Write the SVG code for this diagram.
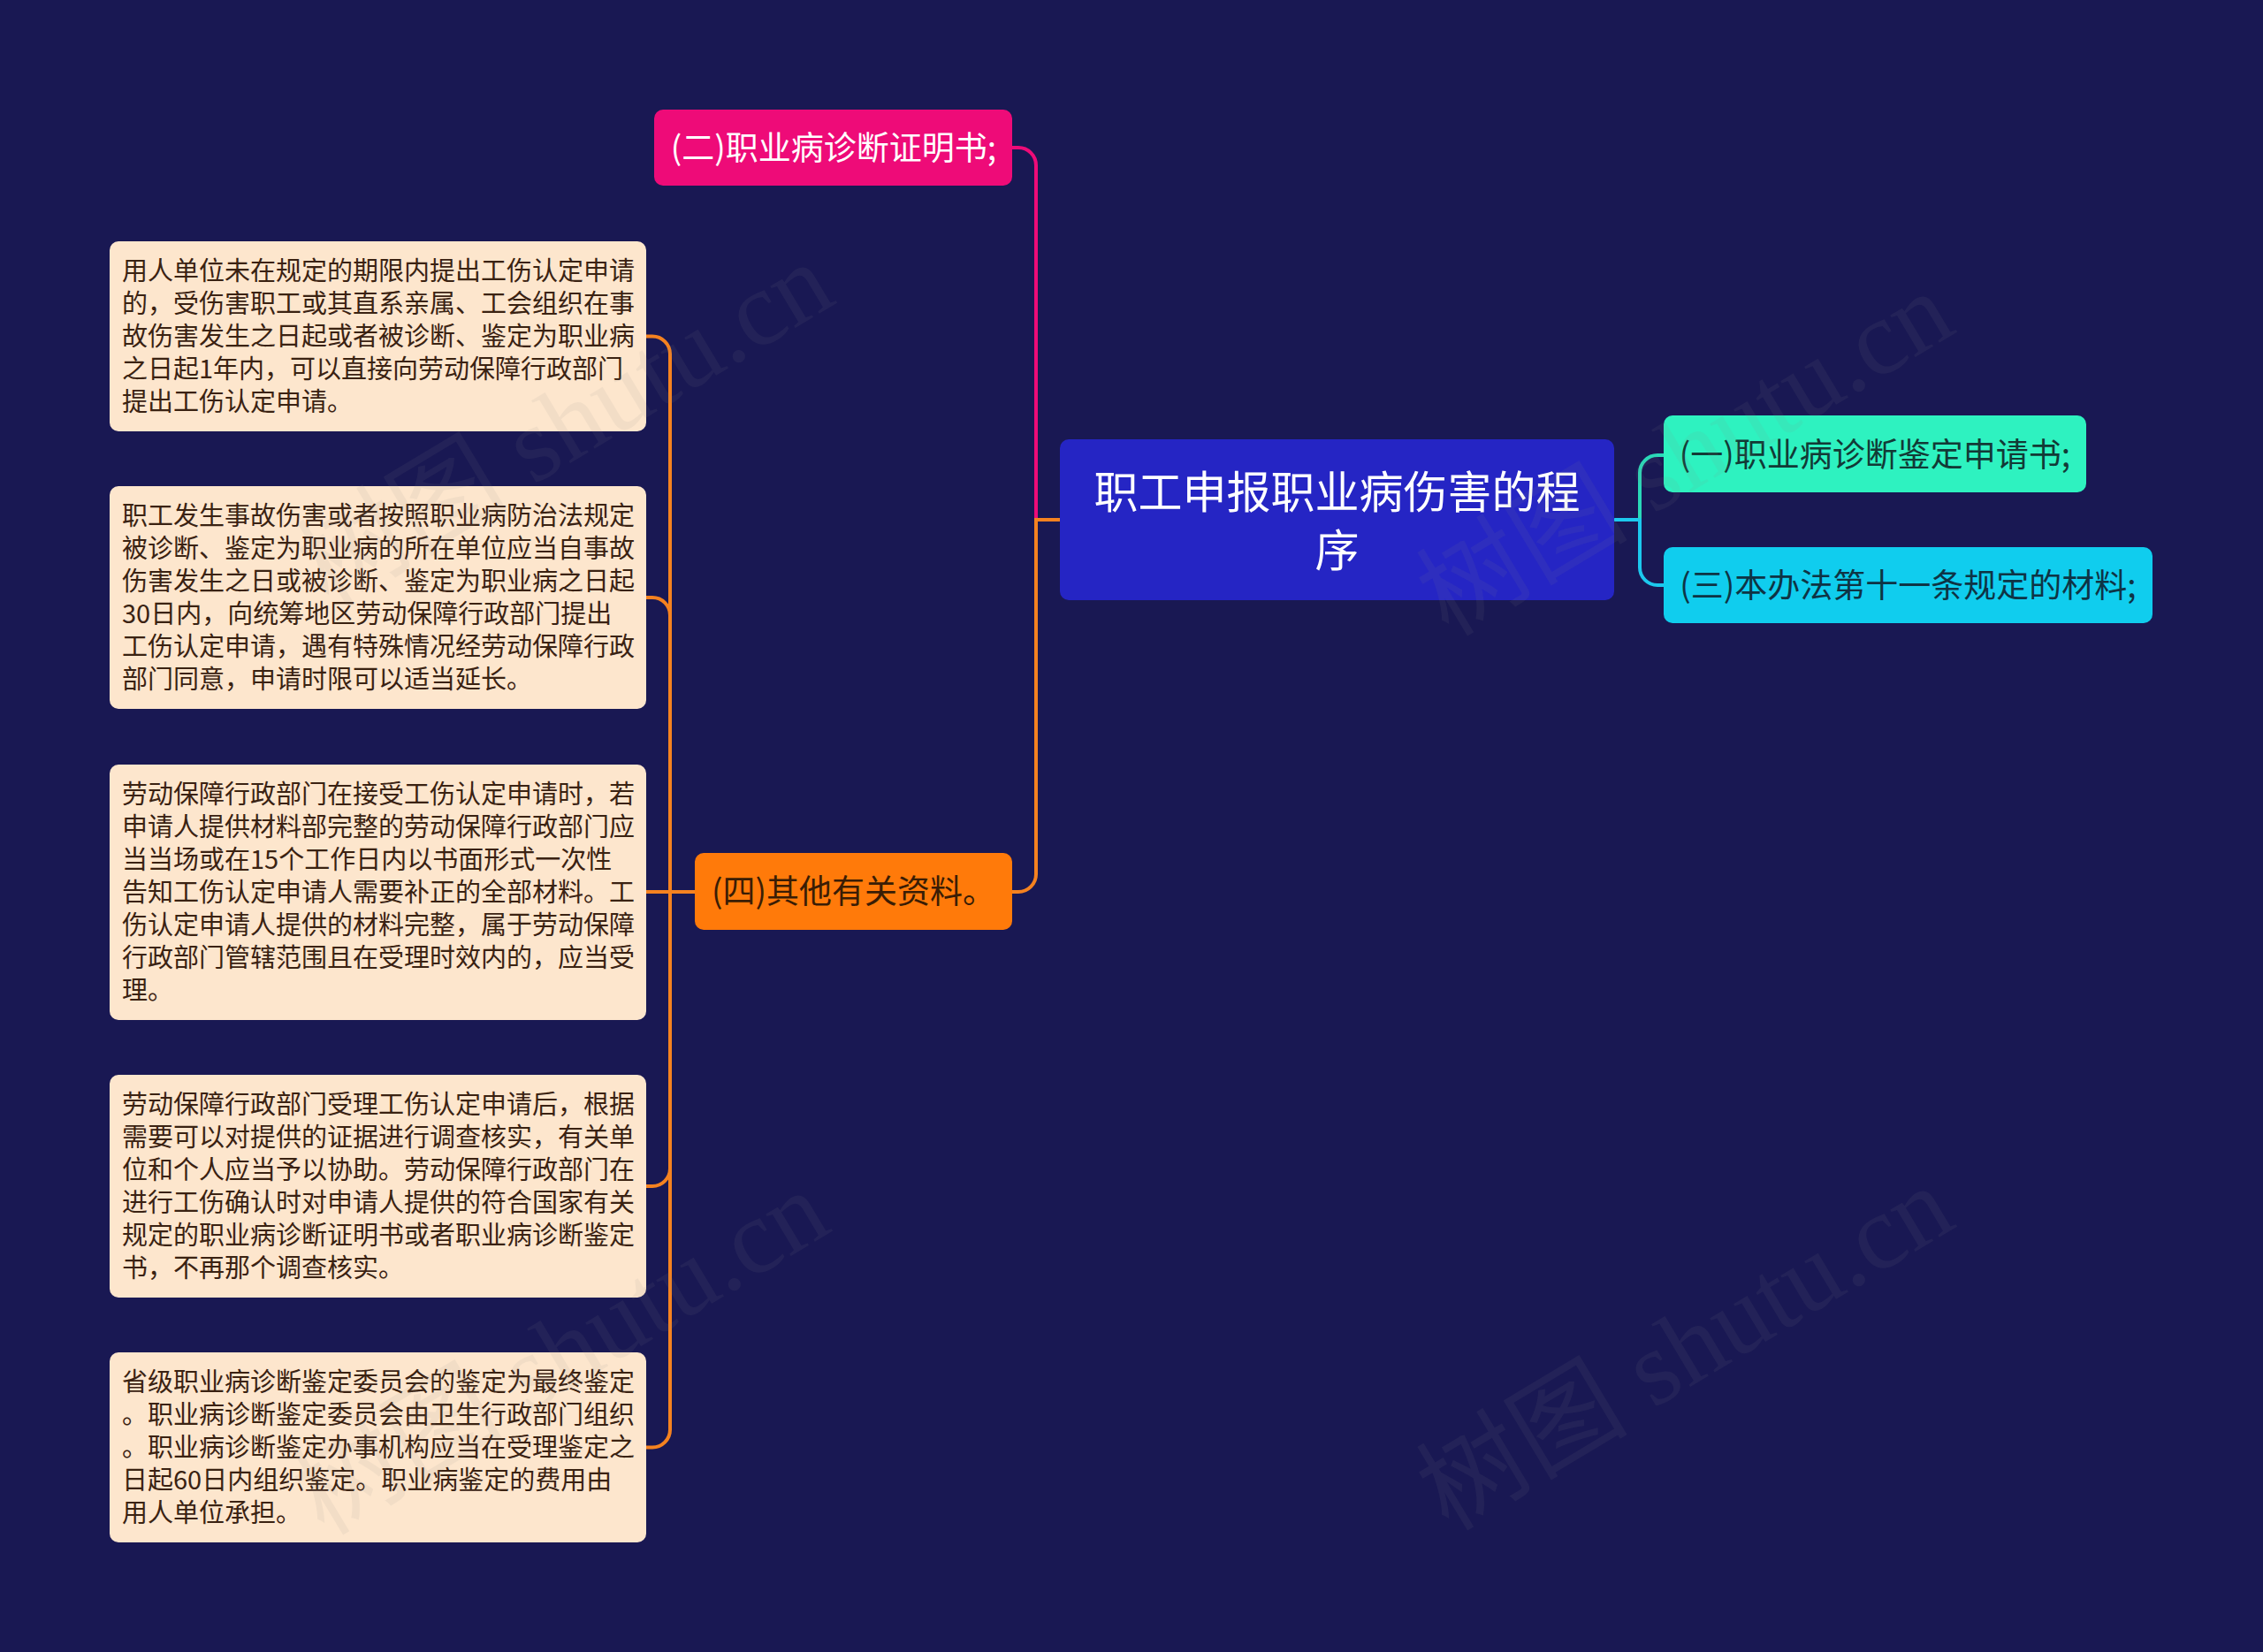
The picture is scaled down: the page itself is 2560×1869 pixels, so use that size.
<svg xmlns="http://www.w3.org/2000/svg" width="2560" height="1869" viewBox="0 0 2560 1869">
<style>
.leaf rect{fill:#fde6cd;}
.leaf text{font-family:"Noto Sans CJK SC","Noto Sans",sans-serif;font-size:29px;fill:#3a2212;}
.main text{font-family:"Noto Sans CJK SC","Noto Sans",sans-serif;font-size:37px;text-anchor:middle;}
.title text{font-family:"Noto Sans CJK SC","Noto Sans",sans-serif;font-size:50px;text-anchor:middle;fill:#ffffff;}
.conn path{fill:none;stroke-width:4;stroke-linecap:round;}
.wm{font-family:"Liberation Serif","Noto Sans CJK SC",serif;font-size:120px;fill:#8a8a8a;opacity:0.09;}
</style>
<rect x="0" y="0" width="2560" height="1869" fill="#191853"/>

<g id="connectors" class="conn">
  <path d="M1145 167 L1152 167 A20 20 0 0 1 1172 187 L1172 588" stroke="#ee0b78"/>
  <path d="M1199 588 L1172 588 L1172 989 A20 20 0 0 1 1152 1009 L1145 1009" stroke="#f58220"/>
  <path d="M1827 588 L1855 588" stroke="#1cc8ee"/>
  <path d="M1855 588 L1855 535 A20 20 0 0 1 1875 515 L1882 515" stroke="#2ad8b8"/>
  <path d="M1855 588 L1855 642 A20 20 0 0 0 1875 662 L1882 662" stroke="#1cc8ee"/>
  <path d="M786 1009 L731 1009" stroke="#f58220"/>
  <path d="M758 1009 L758 400.5 A20 20 0 0 0 738 380.5 L731 380.5" stroke="#f58220"/>
  <path d="M758 696 A20 20 0 0 0 738 676 L731 676" stroke="#f58220"/>
  <path d="M758 1009 L758 1322 A20 20 0 0 1 738 1342 L731 1342" stroke="#f58220"/>
  <path d="M758 1322 L758 1617.5 A20 20 0 0 1 738 1637.5 L731 1637.5" stroke="#f58220"/>
</g>

<g id="root" class="title">
  <rect x="1199" y="497" width="627" height="182" rx="10" fill="#2525c4"/>
  <text x="1512.5" y="575">职工申报职业病伤害的程</text>
  <text x="1512.5" y="641">序</text>
</g>

<g id="n2" class="main">
  <rect x="740" y="124" width="405" height="86" rx="10" fill="#ee0b78"/>
  <text x="943" y="181" fill="#ffffff">(二)职业病诊断证明书;</text>
</g>

<g id="n1" class="main">
  <rect x="1882" y="470" width="478" height="87" rx="10" fill="#2ef2c0"/>
  <text x="2121" y="528" fill="#123a36">(一)职业病诊断鉴定申请书;</text>
</g>

<g id="n3" class="main">
  <rect x="1882" y="619" width="553" height="86" rx="10" fill="#10cdee"/>
  <text x="2158.5" y="676" fill="#0e3445">(三)本办法第十一条规定的材料;</text>
</g>

<g id="n4" class="main">
  <rect x="786" y="965" width="359" height="87" rx="10" fill="#ff7a0a"/>
  <text x="965.5" y="1022" fill="#3a1d05">(四)其他有关资料。</text>
</g>

<g id="leaf1" class="leaf">
  <rect x="124" y="273" width="607" height="215" rx="10"/>
  <text x="138" y="317">用人单位未在规定的期限内提出工伤认定申请</text>
  <text x="138" y="354">的，受伤害职工或其直系亲属、工会组织在事</text>
  <text x="138" y="391">故伤害发生之日起或者被诊断、鉴定为职业病</text>
  <text x="138" y="428">之日起1年内，可以直接向劳动保障行政部门</text>
  <text x="138" y="465">提出工伤认定申请。</text>
</g>

<g id="leaf2" class="leaf">
  <rect x="124" y="550" width="607" height="252" rx="10"/>
  <text x="138" y="594">职工发生事故伤害或者按照职业病防治法规定</text>
  <text x="138" y="631">被诊断、鉴定为职业病的所在单位应当自事故</text>
  <text x="138" y="668">伤害发生之日或被诊断、鉴定为职业病之日起</text>
  <text x="138" y="705">30日内，向统筹地区劳动保障行政部门提出</text>
  <text x="138" y="742">工伤认定申请，遇有特殊情况经劳动保障行政</text>
  <text x="138" y="779">部门同意，申请时限可以适当延长。</text>
</g>

<g id="leaf3" class="leaf">
  <rect x="124" y="865" width="607" height="289" rx="10"/>
  <text x="138" y="909">劳动保障行政部门在接受工伤认定申请时，若</text>
  <text x="138" y="946">申请人提供材料部完整的劳动保障行政部门应</text>
  <text x="138" y="983">当当场或在15个工作日内以书面形式一次性</text>
  <text x="138" y="1020">告知工伤认定申请人需要补正的全部材料。工</text>
  <text x="138" y="1057">伤认定申请人提供的材料完整，属于劳动保障</text>
  <text x="138" y="1094">行政部门管辖范围且在受理时效内的，应当受</text>
  <text x="138" y="1131">理。</text>
</g>

<g id="leaf4" class="leaf">
  <rect x="124" y="1216" width="607" height="252" rx="10"/>
  <text x="138" y="1260">劳动保障行政部门受理工伤认定申请后，根据</text>
  <text x="138" y="1297">需要可以对提供的证据进行调查核实，有关单</text>
  <text x="138" y="1334">位和个人应当予以协助。劳动保障行政部门在</text>
  <text x="138" y="1371">进行工伤确认时对申请人提供的符合国家有关</text>
  <text x="138" y="1408">规定的职业病诊断证明书或者职业病诊断鉴定</text>
  <text x="138" y="1445">书，不再那个调查核实。</text>
</g>

<g id="leaf5" class="leaf">
  <rect x="124" y="1530" width="607" height="215" rx="10"/>
  <text x="138" y="1574">省级职业病诊断鉴定委员会的鉴定为最终鉴定</text>
  <text x="138" y="1611">。职业病诊断鉴定委员会由卫生行政部门组织</text>
  <text x="138" y="1648">。职业病诊断鉴定办事机构应当在受理鉴定之</text>
  <text x="138" y="1685">日起60日内组织鉴定。职业病鉴定的费用由</text>
  <text x="138" y="1722">用人单位承担。</text>
</g>

<g id="watermarks">
  <text class="wm" text-anchor="middle" transform="translate(660 515) rotate(-31)">树图 shutu.cn</text>
  <text class="wm" text-anchor="middle" transform="translate(1927 548) rotate(-31)">树图 shutu.cn</text>
  <text class="wm" text-anchor="middle" transform="translate(655 1565) rotate(-31)">树图 shutu.cn</text>
  <text class="wm" text-anchor="middle" transform="translate(1927 1560) rotate(-31)">树图 shutu.cn</text>
</g>
</svg>
